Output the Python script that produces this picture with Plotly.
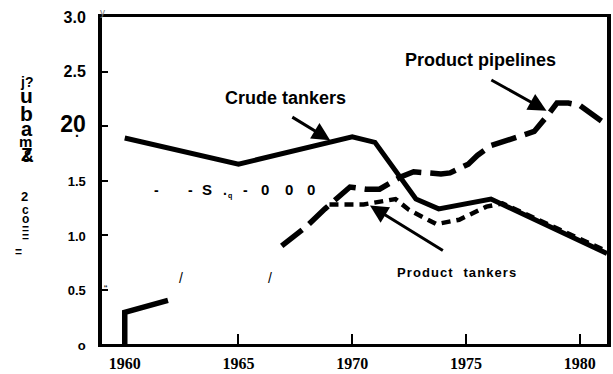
import plotly.graph_objects as go

# ---- data: transport cost index by mode ----
crude_years = [1960, 1965, 1970, 1971, 1972.8, 1973.8, 1976.1, 1981.2]
crude_vals = [1.89, 1.65, 1.90, 1.85, 1.33, 1.24, 1.33, 0.83]

ptank_years = [1969.0, 1970.5, 1971.9, 1972.5, 1973.7, 1974.7, 1975.9, 1976.6, 1981.2]
ptank_vals = [1.28, 1.28, 1.33, 1.23, 1.10, 1.14, 1.26, 1.29, 0.85]

pipe_years = [1960, 1960, 1961.9,
              1966.9, 1968.0, 1968.8, 1969.9, 1970.6, 1971.2, 1972.1, 1972.7,
              1973.9, 1974.3, 1975.1, 1975.5, 1976.1, 1977.3, 1978.0, 1978.6,
              1979.0, 1979.5, 1980.0, 1981.2]
pipe_vals = [0.0, 0.29, 0.40,
             0.90, 1.08, 1.24, 1.44, 1.42, 1.42, 1.53, 1.58,
             1.56, 1.57, 1.65, 1.73, 1.82, 1.91, 1.95, 2.10,
             2.21, 2.21, 2.19, 2.01]

x_ticks = [1960, 1965, 1970, 1975, 1980]
x_ticklabels = ["1960", "1965", "1970", "1975", "1980"]
y_ticks = [0, 0.5, 1.0, 1.5, 2.0, 2.5, 3.0]
y_ticklabels = ["o", "0.5", "1.0", "1.5", "20", "2.5", "3.0"]
y_ticksizes = [13, 13, 13, 13, 23, 16, 16]

NARROW = "Liberation Sans Narrow, Arial Narrow, Liberation Sans, Arial"
SANS = "Liberation Sans, Arial, sans-serif"
SERIF = "Liberation Serif, Times New Roman, serif"

# plot area in pixels
L, R, T, B = 102, 611, 17, 350
W, H = 613, 374


def px(x):
    return (x - L) / (R - L)


def py(y):
    return (B - y) / (B - T)


fig = go.Figure()

split = 3  # first pipeline run is drawn solid, the rest dashed

fig.add_trace(go.Scatter(x=crude_years, y=crude_vals, mode="lines",
                         line=dict(color="black", width=5), hoverinfo="skip"))
fig.add_trace(go.Scatter(x=ptank_years, y=ptank_vals, mode="lines",
                         line=dict(color="black", width=4.5, dash="9px,6px"),
                         hoverinfo="skip"))
fig.add_trace(go.Scatter(x=pipe_years[:split], y=pipe_vals[:split], mode="lines",
                         line=dict(color="black", width=5.5), hoverinfo="skip"))
fig.add_trace(go.Scatter(x=pipe_years[split:], y=pipe_vals[split:], mode="lines",
                         line=dict(color="black", width=5.5, dash="26px,9px"),
                         hoverinfo="skip"))

y_text = []
for lab, sz in zip(y_ticklabels, y_ticksizes):
    y_text.append(f'<span style="font-size:{sz}px"><b>{lab}</b></span>')

annotations = []


def txt(s, x, y, size=13, family=SANS, bold=True, color="black", anchor="center"):
    t = f"<b>{s}</b>" if bold else s
    annotations.append(dict(text=t, x=px(x), y=py(y), xref="paper", yref="paper",
                            showarrow=False, xanchor=anchor, yanchor="middle",
                            font=dict(size=size, family=family, color=color)))


# series labels
txt("Crude tankers", 287, 99, size=18, family=NARROW)
txt("Product pipelines", 483, 61, size=18, family=NARROW)
hs = "\u200a"
txt(hs.join("Product") + "   " + hs.join("tankers"), 459, 277, size=13)

# arrows pointing at the lines
for (tx, ty), (hx, hy) in [((1967.3, 2.09), (1969.03, 1.87)),
                           ((1976.05, 2.43), (1978.54, 2.14)),
                           ((1974.05, 0.85), (1970.78, 1.27))]:
    annotations.append(dict(x=hx, y=hy, ax=tx, ay=ty, xref="x", yref="y",
                            axref="x", ayref="y", text="", showarrow=True,
                            arrowhead=2, arrowsize=1.2, arrowwidth=3,
                            arrowcolor="black"))

# vertical axis caption, set character by character
for ch, x, y, sz, fam in [("j?", 26, 83, 14, NARROW), ("u", 26, 97, 21, NARROW),
                          ("b", 26, 115, 21, NARROW), ("a", 26, 131, 20, NARROW),
                          ("m", 25, 144, 15, NARROW), ("Z", 26, 157, 19, NARROW),
                          ("&", 27, 159, 16, NARROW), ("2", 24, 200, 13, SANS),
                          ("c", 25, 214, 12, SANS), ("o", 25, 223, 12, SANS),
                          ("=", 25, 233, 12, SANS), ("=", 25, 241, 12, SANS),
                          ("=", 18, 256, 12, SANS)]:
    txt(ch, x, y, size=sz, family=fam)

# stray marks inside the frame
txt("-", 157, 193, size=14)
txt("-", 191, 193, size=14)
txt("S", 208, 193, size=15)
txt(".", 226, 193, size=14)
txt("q", 231, 199, size=7)
txt("-", 247, 193, size=14)
for zx in (266, 290, 313):
    txt("0", zx, 193, size=15)
txt("/", 182, 283, size=14, bold=False)
txt("/", 271, 283, size=14, bold=False)
txt("\u201c", 106, 295, size=10, bold=False)
txt("y", 103, 12, size=10, bold=False, color="#777")
txt(".", 77, 134, size=14)

fig.update_layout(
    width=W, height=H,
    margin=dict(l=L, r=W - R, t=T, b=H - B, pad=0),
    paper_bgcolor="white", plot_bgcolor="white",
    showlegend=False,
    annotations=annotations,
    xaxis=dict(range=[1959.0, 1981.2], tickvals=x_ticks,
               ticktext=[f"<b>{t}</b>" for t in x_ticklabels],
               ticks="inside", ticklen=10, tickwidth=2, tickcolor="black",
               showline=True, linewidth=3, linecolor="black", mirror=True,
               showgrid=False, zeroline=False,
               tickfont=dict(family=SERIF, size=16, color="black"),
               ticklabelstandoff=3),
    yaxis=dict(range=[0, 3.0], tickvals=y_ticks, ticktext=y_text,
               ticks="inside", ticklen=6, tickwidth=2, tickcolor="black",
               showline=True, linewidth=4, linecolor="black", mirror=True,
               showgrid=False, zeroline=False,
               tickfont=dict(family=NARROW, size=16, color="black"),
               ticklabelstandoff=9),
)

fig.write_html("out.html")
